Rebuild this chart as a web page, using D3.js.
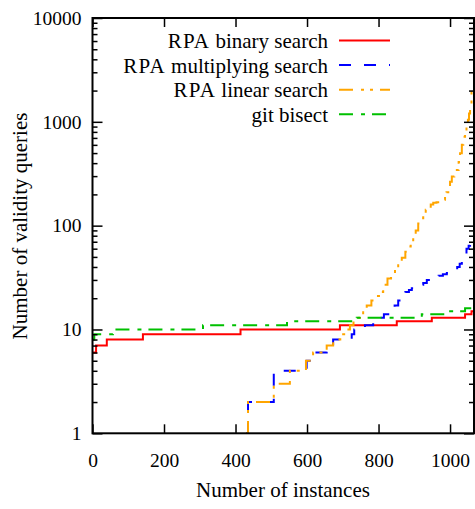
<!DOCTYPE html>
<html>
<head>
<meta charset="utf-8">
<script src="https://cdn.jsdelivr.net/npm/d3@7"></script>
<style>
  body { margin: 0; background: #fff; }
  text { font-family: "Liberation Serif", "Times New Roman", serif; fill: #000; }
</style>
</head>
<body>
<div id="root"></div>
<script>
// cactus plot data: instance index where the value changes, and the value from there on
const binaryX = [0, 10, 40, 141, 414, 692, 851, 949, 1042, 1060, 1067];
const binaryY = [6, 7, 8, 9, 10, 11, 12, 13, 14, 15, 100000];

const multX = [430, 435, 507, 599, 617, 655, 673, 725, 732, 762, 785, 800, 815, 832, 845, 855, 865, 875, 885, 893, 907, 915, 925, 935, 944, 955, 968, 980, 991, 1000, 1009, 1015, 1020, 1027, 1033, 1040, 1046, 1052, 1056, 1062, 1067];
const multY = [1, 2, 4, 5, 6, 7, 8, 9, 10, 11, 12, 13, 14, 15, 17, 19, 21, 23, 24, 25, 26, 27, 28, 30, 31, 32, 33, 34, 35, 36, 37, 38, 40, 43, 47, 52, 60, 64, 68, 73, 100000];

const linearX = [430, 435, 507, 552, 597, 617, 655, 673, 693, 707, 720, 730, 739, 748, 757, 767, 780, 795, 804, 813, 825, 835, 846, 855, 865, 875, 883, 890, 897, 904, 911, 918, 925, 932, 939, 946, 953, 962, 972, 980, 986, 990, 995, 1000, 1005, 1012, 1019, 1024, 1028, 1033, 1037, 1042, 1046, 1050, 1053, 1056, 1060, 1067];
const linearY = [1, 2, 3, 4, 5, 6, 7, 8, 9, 10, 11, 12, 13, 14, 15, 17, 19, 21, 23, 27, 31, 34, 38, 43, 49, 56, 63, 70, 78, 90, 105, 118, 131, 142, 152, 160, 166, 168, 171, 178, 190, 210, 238, 265, 297, 320, 343, 410, 497, 600, 720, 820, 900, 1050, 1200, 1400, 2000, 100000];

const gitX = [0, 5, 57, 309, 544, 739, 921, 991, 1042, 1067];
const gitY = [8, 9, 10, 11, 12, 13, 14, 15, 16, 100000];

const seriesNames = ["RPA binary search", "RPA multiplying search", "RPA linear search", "git bisect"];
const seriesColors = ["#ff0000", "#0000ff", "#ffa500", "#00c000"];
const seriesDashes = [null, "12,13", "14,8,3,6,3,7", "14,8,4,7"];

const xTicks = [0, 200, 400, 600, 800, 1000];
const yTicks = [1, 10, 100, 1000, 10000];

const w = 475;
const h = 509;
const pLeft = 92.5, pRight = 474, pTop = 18, pBottom = 433.3;

const x = d3.scaleLinear().domain([0, 1067]).range([pLeft, pRight]);
const y = d3.scaleLog().domain([1, 10000]).range([pBottom, pTop]);

const svg = d3.select('#root')
  .append('svg')
  .attr('width', w)
  .attr('height', h);

svg.append('defs').append('clipPath')
  .attr('id', 'plot')
  .append('rect')
  .attr('x', pLeft)
  .attr('y', pTop)
  .attr('width', pRight - pLeft)
  .attr('height', pBottom - pTop);

const series = [
  binaryX.map((d, i) => [d, binaryY[i]]),
  multX.map((d, i) => [d, multY[i]]),
  linearX.map((d, i) => [d, linearY[i]]),
  gitX.map((d, i) => [d, gitY[i]])
];

const line = d3.line()
  .x(d => x(d[0]))
  .y(d => y(d[1]))
  .curve(d3.curveStepAfter);

svg.append('g')
  .attr('clip-path', 'url(#plot)')
  .selectAll('path')
  .data(series)
  .enter()
  .append('path')
  .attr('d', line)
  .attr('fill', 'none')
  .attr('stroke', (d, i) => seriesColors[i])
  .attr('stroke-width', 2)
  .attr('stroke-dasharray', (d, i) => seriesDashes[i]);

// minor ticks for the log axis
const minor = [];
for (let e = 0; e < 4; e++) {
  for (let k = 2; k <= 9; k++) minor.push(k * Math.pow(10, e));
}

const fontSize = '19.5px';

const styleAxis = g => {
  g.select('.domain').remove();
  g.selectAll('line').attr('stroke', '#000').attr('stroke-width', 1.5);
};

// bottom
svg.append('g')
  .attr('transform', `translate(0,${pBottom})`)
  .call(d3.axisBottom(x).tickValues(xTicks).tickSizeInner(-9).tickSizeOuter(0).tickPadding(20).tickFormat(d3.format('d')))
  .call(styleAxis)
  .selectAll('text').attr('font-size', fontSize).attr('font-family', null);

// top mirror
svg.append('g')
  .attr('transform', `translate(0,${pTop})`)
  .call(d3.axisTop(x).tickValues(xTicks).tickSizeInner(-9).tickSizeOuter(0).tickFormat(''))
  .call(styleAxis);

// left
svg.append('g')
  .attr('transform', `translate(${pLeft},0)`)
  .call(d3.axisLeft(y).tickValues(yTicks).tickSizeInner(-10).tickSizeOuter(0).tickPadding(11).tickFormat(d3.format('d')))
  .call(styleAxis)
  .selectAll('text').attr('font-size', fontSize).attr('font-family', null);

svg.append('g')
  .attr('transform', `translate(${pLeft},0)`)
  .call(d3.axisLeft(y).tickValues(minor).tickSizeInner(-5).tickSizeOuter(0).tickFormat(''))
  .call(styleAxis);

// right mirror
svg.append('g')
  .attr('transform', `translate(${pRight},0)`)
  .call(d3.axisRight(y).tickValues(yTicks).tickSizeInner(-10).tickSizeOuter(0).tickFormat(''))
  .call(styleAxis);

svg.append('g')
  .attr('transform', `translate(${pRight},0)`)
  .call(d3.axisRight(y).tickValues(minor).tickSizeInner(-5).tickSizeOuter(0).tickFormat(''))
  .call(styleAxis);

// border
svg.append('rect')
  .attr('x', pLeft)
  .attr('y', pTop)
  .attr('width', pRight - pLeft)
  .attr('height', pBottom - pTop)
  .attr('fill', 'none')
  .attr('stroke', '#000')
  .attr('stroke-width', 2);

// legend
const legend = svg.append('g')
  .selectAll('g')
  .data(seriesNames)
  .enter()
  .append('g')
  .attr('transform', (d, i) => `translate(0,${40.5 + i * 24.6})`);

const legendText = legend.append('text')
  .attr('x', 328)
  .attr('y', 7.5)
  .attr('text-anchor', 'end')
  .attr('font-size', '21px');

legendText.each(function(d) {
  const t = d3.select(this);
  if (d.startsWith('RPA')) {
    t.append('tspan').attr('letter-spacing', '1.2px').text('RPA');
    t.append('tspan').text(d.slice(3));
  } else {
    t.text(d);
  }
});

legend.append('line')
  .attr('x1', 339)
  .attr('x2', 390)
  .attr('stroke', (d, i) => seriesColors[i])
  .attr('stroke-width', 2)
  .attr('stroke-dasharray', (d, i) => seriesDashes[i]);

// axis titles
svg.append('text')
  .text('Number of instances')
  .attr('x', 283)
  .attr('y', 496.5)
  .attr('text-anchor', 'middle')
  .attr('font-size', '21px');

svg.append('text')
  .text('Number of validity queries')
  .attr('transform', 'translate(27,226) rotate(-90)')
  .attr('text-anchor', 'middle')
  .attr('font-size', '21px');
</script>
</body>
</html>
